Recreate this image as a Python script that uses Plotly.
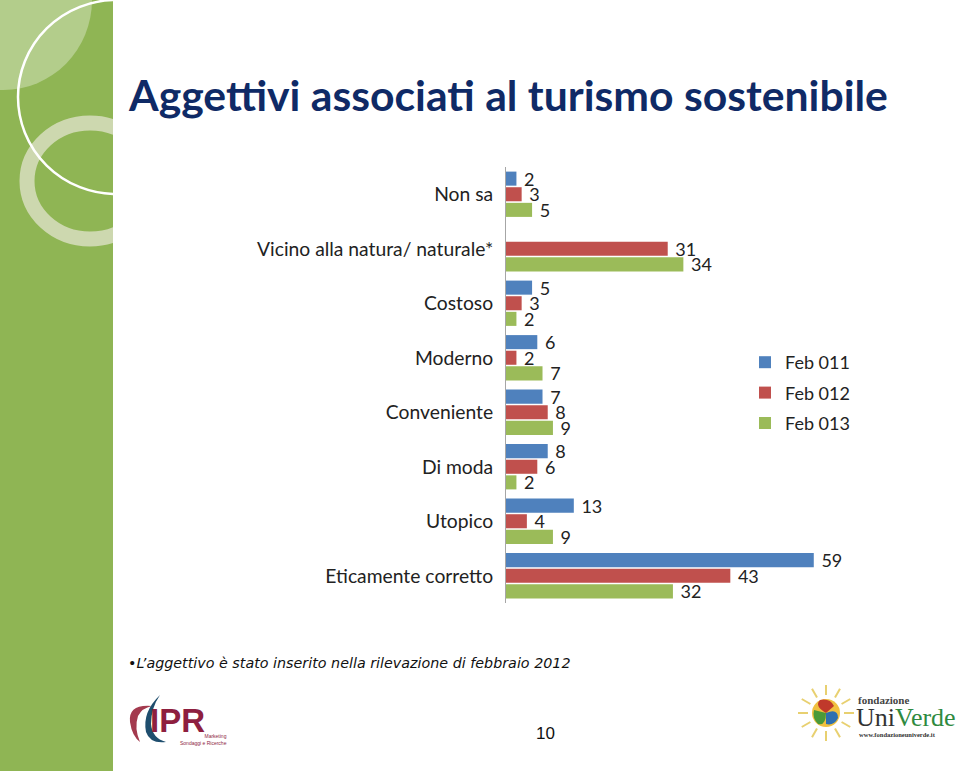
import plotly.graph_objects as go
import math

categories = ["Non sa", "Vicino alla natura/ naturale*", "Costoso", "Moderno",
              "Conveniente", "Di moda", "Utopico", "Eticamente corretto"]
feb011 = [2, None, 5, 6, 7, 8, 13, 59]
feb012 = [3, 31, 3, 2, 8, 6, 4, 43]
feb013 = [5, 34, 2, 7, 9, 2, 9, 32]
series_names = ["Feb 011", "Feb 012", "Feb 013"]
series_colors = ["#4f81bd", "#c0504d", "#9bbb59"]

W, H = 960, 771
LBL = "Lato, Carlito, sans-serif"

fig = go.Figure()
for i, (name, vals, col) in enumerate(zip(series_names, [feb011, feb012, feb013], series_colors)):
    fig.add_trace(go.Bar(
        y=categories, x=vals, name=name, orientation="h",
        marker=dict(color=col, line=dict(width=0)),
        text=[("" if v is None else "\u00a0" + str(v)) for v in vals],
        textposition="outside", cliponaxis=False, constraintext="none",
        textfont=dict(family=LBL, size=18, color="#222222"),
        legendgroup=name, xaxis="x", yaxis="y",
    ))

def px_x(p):
    return p / W

def px_y(p):
    return 1 - p / H

shapes = []
# green left band (decor axis x2/y2 clipped at 113 px)
shapes.append(dict(type="rect", xref="x2", yref="y2", x0=0, x1=113, y0=0, y1=771,
                   fillcolor="#8fb554", line=dict(width=0), layer="below"))
shapes.append(dict(type="circle", xref="x2", yref="y2", x0=-85, x1=92, y0=-90, y1=90,
                   fillcolor="rgba(255,255,255,0.32)", line=dict(width=0), layer="below"))
shapes.append(dict(type="circle", xref="x2", yref="y2", x0=27, x1=153, y0=123, y1=239,
                   fillcolor="rgba(0,0,0,0)", line=dict(color="rgba(225,228,205,0.75)", width=15), layer="below"))
shapes.append(dict(type="circle", xref="x2", yref="y2", x0=18, x1=214, y0=0, y1=194,
                   fillcolor="rgba(0,0,0,0)", line=dict(color="#ffffff", width=2.5), layer="below"))

# IPR logo swooshes (pixel axes x3/y3)
shapes.append(dict(type="path", xref="x3", yref="y3",
                   path="M 152 706 Q 128 704 130 722 Q 132 736 140 742 Q 134 728 138 716 Q 142 708 152 706 Z",
                   fillcolor="#a33a4e", line=dict(width=0)))
shapes.append(dict(type="path", xref="x3", yref="y3",
                   path="M 160 695 Q 142 712 146 732 Q 150 744 166 742 Q 152 738 151 724 Q 151 708 160 695 Z",
                   fillcolor="#1f4e6e", line=dict(width=0)))
# UniVerde sun
sun_cx, sun_cy = 826, 713
for k in range(12):
    a = 2 * math.pi * k / 12
    shapes.append(dict(type="line", xref="x3", yref="y3",
                       x0=sun_cx + 18 * math.cos(a), y0=sun_cy + 18 * math.sin(a),
                       x1=sun_cx + 28 * math.cos(a), y1=sun_cy + 28 * math.sin(a),
                       line=dict(color="#e8d070", width=2)))
shapes.append(dict(type="circle", xref="x3", yref="y3", x0=812, x1=840, y0=699, y1=727,
                   fillcolor="#f0c040", line=dict(width=0)))
shapes.append(dict(type="path", xref="x3", yref="y3",
                   path="M 826 713 Q 814 706 820 700 Q 830 698 834 706 Z", fillcolor="#c0392b", line=dict(width=0)))
shapes.append(dict(type="path", xref="x3", yref="y3",
                   path="M 826 713 Q 838 708 838 718 Q 834 726 826 724 Z", fillcolor="#2e6fb0", line=dict(width=0)))
shapes.append(dict(type="path", xref="x3", yref="y3",
                   path="M 826 713 Q 826 726 818 724 Q 812 718 814 710 Z", fillcolor="#4a9a3a", line=dict(width=0)))

annotations = [
    dict(text="<b>Aggettivi associati al turismo sostenibile</b>", xref="x3", yref="y3",
         x=126, y=94, xanchor="left", yanchor="middle", showarrow=False,
         font=dict(family="Lato, sans-serif", size=42.7, color="#0f2a66")),
    dict(text="•<i>L’aggettivo è stato inserito nella rilevazione di febbraio 2012</i>", xref="x3", yref="y3",
         x=126, y=663, xanchor="left", yanchor="middle", showarrow=False,
         font=dict(family="DejaVu Sans, sans-serif", size=14.3, color="#111111")),
    dict(text="10", xref="x3", yref="y3", x=545, y=733, xanchor="center", yanchor="middle",
         showarrow=False, font=dict(family="Liberation Sans, sans-serif", size=17, color="#111111")),
    dict(text="<b>IPR</b>", xref="x3", yref="y3", x=148, y=720, xanchor="left", yanchor="middle",
         showarrow=False, font=dict(family="Liberation Sans, sans-serif", size=33, color="#8e1f3f")),
    dict(text="Marketing<br>Sondaggi e Ricerche", xref="x3", yref="y3", x=229, y=739, xanchor="right",
         yanchor="middle", showarrow=False, align="right",
         font=dict(family="Liberation Sans, sans-serif", size=5, color="#8e1f3f")),
    dict(text="<b>fondazione</b>", xref="x3", yref="y3", x=856, y=700, xanchor="left", yanchor="middle",
         showarrow=False, font=dict(family="Liberation Serif, serif", size=11, color="#444444")),
    dict(text="<span style='color:#333333'>Uni</span><span style='color:#2f8a3f'>Verde</span>", xref="x3", yref="y3",
         x=854, y=717, xanchor="left", yanchor="middle", showarrow=False,
         font=dict(family="Liberation Serif, serif", size=26)),
    dict(text="<b>www.fondazioneuniverde.it</b>", xref="x3", yref="y3", x=857, y=734, xanchor="left",
         yanchor="middle", showarrow=False, font=dict(family="Liberation Serif, serif", size=6.5, color="#333333")),
]

fig.update_layout(
    width=W, height=H, margin=dict(l=0, r=0, t=0, b=0, autoexpand=False),
    paper_bgcolor="#ffffff", plot_bgcolor="rgba(0,0,0,0)",
    barmode="group", bargap=0.14, bargroupgap=0.1,
    showlegend=True,
    legend=dict(xref="paper", yref="paper", x=px_x(745), y=px_y(344),
                xanchor="left", yanchor="top", tracegroupgap=4,
                font=dict(family=LBL, size=18, color="#222222"), bgcolor="rgba(0,0,0,0)",
                itemwidth=30),
    xaxis=dict(domain=[px_x(506), px_x(819)], range=[0, 60], showgrid=False, zeroline=False,
               showticklabels=False, showline=False, ticks=""),
    yaxis=dict(domain=[px_y(603), px_y(167)], autorange="reversed", showgrid=False, zeroline=False,
               showline=True, linecolor="#a6a6a6", linewidth=1, ticks="", ticklabelstandoff=8,
               tickfont=dict(family=LBL, size=19.3, color="#222222")),
    xaxis2=dict(domain=[0, 113 / W], range=[0, 113], visible=False, anchor="y2"),
    yaxis2=dict(domain=[0, 1], range=[771, 0], visible=False, anchor="x2"),
    xaxis3=dict(domain=[0, 1], range=[0, 960], visible=False, anchor="y3"),
    yaxis3=dict(domain=[0, 1], range=[771, 0], visible=False, anchor="x3"),
    shapes=shapes, annotations=annotations,
)

fig.write_html("out.html")
